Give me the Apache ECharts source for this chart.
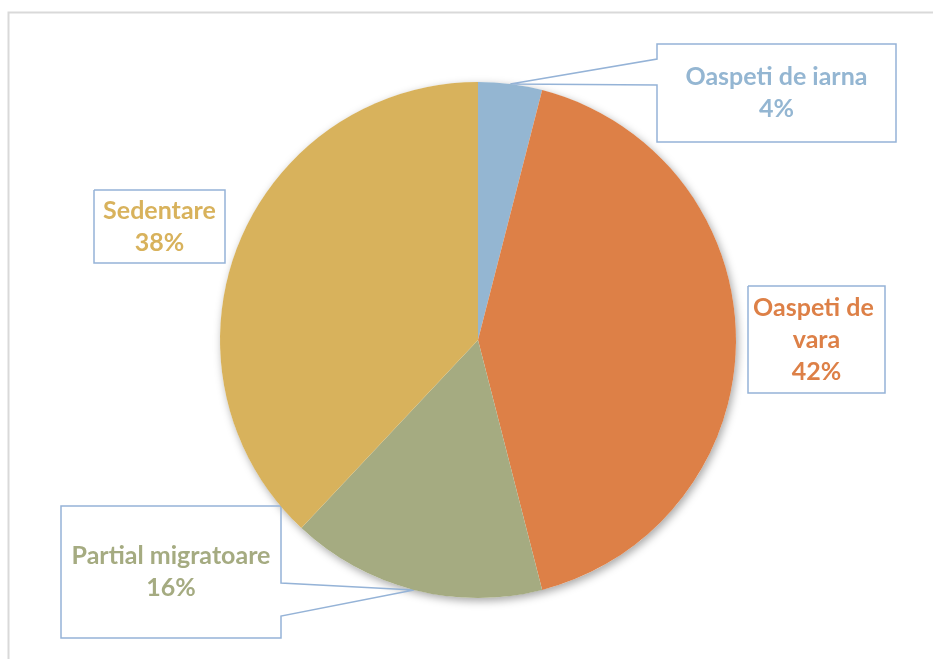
<!DOCTYPE html>
<html>
<head>
<meta charset="utf-8">
<script src="https://cdn.jsdelivr.net/npm/echarts@6/dist/echarts.min.js"></script>
<style>
  html, body { margin: 0; padding: 0; background: #fff; }
  #chart { width: 933px; height: 659px; }
</style>
</head>
<body>
<div id="chart"></div>
<script>
// Bird species by residence status (share of species, %)
const categories = ['Oaspeti de iarna', 'Oaspeti de vara', 'Partial migratoare', 'Sedentare'];
const shares = [4, 42, 16, 38];
const sliceColors = ['#94B6D2', '#DD8047', '#A5AB81', '#D8B25C'];

// Callout boxes: [left, top, right, bottom] and, for boxes with a pointer,
// the side it opens on and the vertical span of the opening.
const calloutBoxes = [
  { box: [657, 44, 896, 142], side: 'left', gap: [59, 85] },
  { box: [748, 286, 885, 393] },
  { box: [61, 506, 281, 638], side: 'right', gap: [583, 616] },
  { box: [94, 190, 225, 263] }
];
const labelWidths = [null, 130, null, null];

const CENTER = [478, 340];
const RADIUS = 258;

function calloutOutline(cfg, tip) {
  const [l, t, r, b] = cfg.box;
  if (cfg.side === 'left') {
    return [tip, [l, cfg.gap[0]], [l, t], [r, t], [r, b], [l, b], [l, cfg.gap[1]], tip];
  }
  if (cfg.side === 'right') {
    return [tip, [r, cfg.gap[0]], [r, t], [l, t], [l, b], [r, b], [r, cfg.gap[1]], tip];
  }
  return [[l, t], [r, t], [r, b], [l, b], [l, t]];
}

const chart = echarts.init(document.getElementById('chart'), null, { renderer: 'canvas' });

const data = categories.map((name, i) => {
  const label = { color: sliceColors[i] };
  if (labelWidths[i]) { label.width = labelWidths[i]; label.overflow = 'break'; }
  return { name, value: shares[i], itemStyle: { color: sliceColors[i] }, label };
});

chart.setOption({
  animation: false,
  backgroundColor: '#ffffff',
  graphic: [{
    type: 'rect',
    shape: { x: 8.5, y: 12.5, width: 1000, height: 1000 },
    style: { fill: 'none', stroke: '#D9D9D9', lineWidth: 2 },
    silent: true,
    z: 0
  }],
  series: [
    {
      // soft drop shadow under the whole disc
      type: 'pie',
      silent: true,
      z: 1,
      center: CENTER,
      radius: RADIUS,
      label: { show: false },
      labelLine: { show: false },
      itemStyle: {
        color: '#ffffff',
        shadowBlur: 8,
        shadowOffsetX: 2,
        shadowOffsetY: 3,
        shadowColor: 'rgba(0,0,0,0.35)'
      },
      data: [{ value: 1, name: '' }]
    },
    {
      type: 'pie',
      z: 2,
      center: CENTER,
      radius: RADIUS,
      startAngle: 90,
      clockwise: true,
      avoidLabelOverlap: false,
      emphasis: { disabled: true },
      itemStyle: { borderWidth: 0 },
      label: {
        show: true,
        position: 'outside',
        formatter: '{b}\n{d}%',
        fontFamily: 'Lato',
        fontWeight: 'bold',
        fontSize: 25,
        lineHeight: 32,
        align: 'center'
      },
      labelLine: {
        show: true,
        smooth: false,
        lineStyle: { color: '#95B3D7', width: 1.5 }
      },
      labelLayout: function (params) {
        const cfg = calloutBoxes[params.dataIndex];
        const [l, t, r, b] = cfg.box;
        const tip = params.labelLinePoints ? params.labelLinePoints[0] : [l, t];
        return {
          x: (l + r) / 2,
          y: (t + b) / 2,
          align: 'center',
          verticalAlign: 'middle',
          labelLinePoints: calloutOutline(cfg, tip)
        };
      },
      data: data
    }
  ]
});
</script>
</body>
</html>
